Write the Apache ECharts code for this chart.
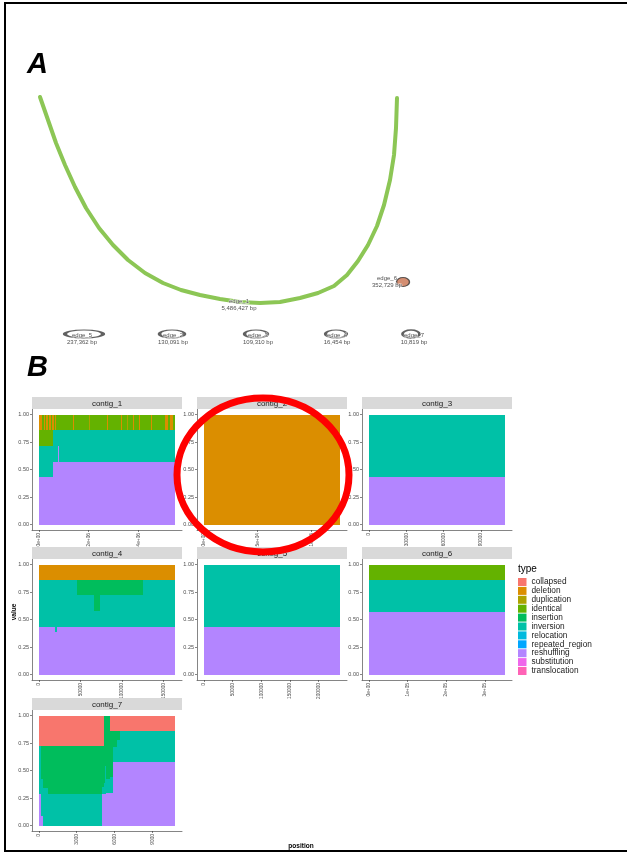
<!DOCTYPE html>
<html><head><meta charset="utf-8">
<script src="https://cdn.jsdelivr.net/npm/echarts@6/dist/echarts.min.js"></script>
<style>html,body{margin:0;padding:0;background:#fff}#c{width:627px;height:854px}</style>
</head><body><div id="c"></div>
<script>
// ---------- Panel A: assembly graph layout (layout units = canvas px) ----------
const arcX = [40,48,56,65,75,86,99,113,128,145,163,181,200,220,240,260,280,300,318,334,347,358,368,377,384,390,394,396,397];
const arcY = [97,120,143,165,187,208,228,245,260,273,283,290,295,299,302,303,302,298,293,286,275,261,245,226,205,180,155,128,98];
const loopNames = ['edge_5','edge_2','edge_3','edge_4','edge_7'];
const loopX = [84,172,256,336,411];
const loopY = [334,334,334,334,334];
const loopW = [38,25,23,21,17];
const labelNames = ['edge_1','edge_6','edge_5','edge_2','edge_3','edge_4','edge_7'];
const labelBp = ['5,486,427 bp','352,729 bp','237,362 bp','130,091 bp','109,310 bp','16,454 bp','10,819 bp'];
const labelX = [239,387,82,173,258,337,414];
const labelY = [305,282,339,339,339,339,339];

// ---------- Panel B: types ----------
const typeNames = ['collapsed','deletion','duplication','identical','insertion','inversion','relocation','repeated_region','reshuffling','substitution','translocation'];
const typeColors = ['#F8766D','#DB8E00','#AEA200','#64B200','#00BD5C','#00C1A7','#00BADE','#00A6FF','#B385FF','#EF67EB','#FF63B6'];

// contig_1
const c1Length = 5486427;
const c1Start = [0,20000,130000,200000,250000,300000,370000,420000,480000,530000,580000,600000,650000,690000,770000,810000,1360000,1400000,2000000,2030000,2730000,2760000,3290000,3330000,3550000,3580000,3800000,3840000,4040000,4080000,4530000,4570000,5070000,5200000,5270000,5380000];
const c1Reshuffling = [0.43,0.43,0.43,0.43,0.43,0.43,0.43,0.43,0.43,0.43,0.57,0.57,0.57,0.57,0.715,0.57,0.57,0.57,0.57,0.57,0.57,0.57,0.57,0.57,0.57,0.57,0.57,0.57,0.57,0.57,0.57,0.57,0.57,0.57,0.57,0.57];
const c1Inversion = [0.285,0.285,0.285,0.285,0.285,0.285,0.285,0.285,0.285,0.285,0.285,0.285,0.285,0.285,0.14,0.285,0.285,0.285,0.285,0.285,0.285,0.285,0.285,0.285,0.285,0.285,0.285,0.285,0.285,0.285,0.285,0.285,0.285,0.285,0.285,0.285];
const c1Identical = [0.285,0.14,0.285,0.14,0.285,0.14,0.285,0.14,0.285,0.14,0,0.145,0,0.145,0.145,0.145,0,0.145,0,0.145,0,0.145,0,0.145,0,0.145,0,0.145,0,0.145,0,0.145,0,0.145,0,0.145];
const c1Deletion = [0,0.145,0,0.145,0,0.145,0,0.145,0,0.145,0.145,0,0.145,0,0,0,0.145,0,0,0,0.145,0,0.145,0,0,0,0.145,0,0.145,0,0.145,0,0.145,0,0.145,0];
const c1Duplication = [0,0,0,0,0,0,0,0,0,0,0,0,0,0,0,0,0,0,0.145,0,0,0,0,0,0.145,0,0,0,0,0,0,0,0,0,0,0];
const c1Ticks = [0,2000000,4000000];
const c1TickLabels = ['0e+00','2e+06','4e+06'];
// contig_2
const c2Length = 127000;
const c2Start = [0];
const c2Deletion = [1];
const c2Ticks = [0,50000,100000];
const c2TickLabels = ['0e+00','5e+04','1e+05'];
// contig_3
const c3Length = 109310;
const c3Start = [0];
const c3Reshuffling = [0.43];
const c3Inversion = [0.57];
const c3Ticks = [0,30000,60000,90000];
const c3TickLabels = ['0','30000','60000','90000'];
// contig_4
const c4Length = 164000;
const c4Start = [0,20000,21500,45600,66400,73600,125700];
const c4Reshuffling = [0.434,0.39,0.434,0.434,0.434,0.434,0.434];
const c4Inversion = [0.426,0.47,0.426,0.286,0.14,0.286,0.426];
const c4Insertion = [0,0,0,0.14,0.286,0.14,0];
const c4Deletion = [0.14,0.14,0.14,0.14,0.14,0.14,0.14];
const c4Ticks = [0,50000,100000,150000];
const c4TickLabels = ['0','50000','100000','150000'];
// contig_5
const c5Length = 237362;
const c5Start = [0];
const c5Reshuffling = [0.434];
const c5Inversion = [0.566];
const c5Ticks = [0,50000,100000,150000,200000];
const c5TickLabels = ['0','50000','100000','150000','200000'];
// contig_6
const c6Length = 352729;
const c6Start = [0];
const c6Reshuffling = [0.57];
const c6Inversion = [0.29];
const c6Identical = [0.14];
const c6Ticks = [0,100000,200000,300000];
const c6TickLabels = ['0e+00','1e+05','2e+05','3e+05'];
// contig_7
const c7Length = 10819;
const c7Start = [0,150,300,750,5036,5170,5290,5330,5646,5908,6200,6439];
const c7Reshuffling = [0.29,0.09,0,0,0.29,0.29,0.29,0.30,0.30,0.574,0.574,0.574];
const c7Inversion = [0.43,0.33,0.34,0.286,0.06,0.10,0.25,0.12,0.14,0.136,0.20,0.281];
const c7Insertion = [0,0.30,0.38,0.434,0.37,0.61,0.46,0.58,0.415,0.145,0.081,0];
const c7Collapsed = [0.28,0.28,0.28,0.28,0.28,0,0,0,0.145,0.145,0.145,0.145];
const c7Ticks = [0,3000,6000,9000];
const c7TickLabels = ['0','3000','6000','9000'];

const yTicks = [0,0.25,0.5,0.75,1];

// ---------- layout ----------
const FONT = '"Liberation Sans", Arial, sans-serif';
const colLeft = [32,197,362];
const rowTop = [397,547,698];
const stripH = 12, panelW = 150, panelH = 121;

const facetDefs = [
  {name:'contig_1',row:0,col:0,len:c1Length,start:c1Start,vals:{reshuffling:c1Reshuffling,inversion:c1Inversion,identical:c1Identical,duplication:c1Duplication,deletion:c1Deletion},ticks:c1Ticks,labels:c1TickLabels},
  {name:'contig_2',row:0,col:1,len:c2Length,start:c2Start,vals:{deletion:c2Deletion},ticks:c2Ticks,labels:c2TickLabels},
  {name:'contig_3',row:0,col:2,len:c3Length,start:c3Start,vals:{reshuffling:c3Reshuffling,inversion:c3Inversion},ticks:c3Ticks,labels:c3TickLabels},
  {name:'contig_4',row:1,col:0,len:c4Length,start:c4Start,vals:{reshuffling:c4Reshuffling,inversion:c4Inversion,insertion:c4Insertion,deletion:c4Deletion},ticks:c4Ticks,labels:c4TickLabels},
  {name:'contig_5',row:1,col:1,len:c5Length,start:c5Start,vals:{reshuffling:c5Reshuffling,inversion:c5Inversion},ticks:c5Ticks,labels:c5TickLabels},
  {name:'contig_6',row:1,col:2,len:c6Length,start:c6Start,vals:{reshuffling:c6Reshuffling,inversion:c6Inversion,identical:c6Identical},ticks:c6Ticks,labels:c6TickLabels},
  {name:'contig_7',row:2,col:0,len:c7Length,start:c7Start,vals:{reshuffling:c7Reshuffling,inversion:c7Inversion,insertion:c7Insertion,collapsed:c7Collapsed},ticks:c7Ticks,labels:c7TickLabels}
];

function buildRects(def){
  const out = {}; typeNames.forEach(t => out[t] = []);
  const n = def.start.length;
  const cum = new Array(n).fill(0);
  for (let ti = typeNames.length - 1; ti >= 0; ti--) {
    const t = typeNames[ti]; const v = def.vals[t]; if (!v) continue;
    for (let i = 0; i < n; i++) {
      const x0 = def.start[i], x1 = i < n - 1 ? def.start[i+1] : def.len;
      const y0 = cum[i], y1 = cum[i] + v[i];
      cum[i] = y1;
      if (v[i] <= 0) continue;
      const last = out[t][out[t].length - 1];
      if (last && last[1] === x0 && Math.abs(last[2]-y0) < 1e-9 && Math.abs(last[3]-y1) < 1e-9) last[1] = x1;
      else out[t].push([x0, x1, y0, y1]);
    }
  }
  return out;
}

function renderRect(params, api){
  const a = api.coord([api.value(0), api.value(3)]);
  const b = api.coord([api.value(1), api.value(2)]);
  let x0 = Math.round(a[0]), x1 = Math.round(b[0]);
  if (x1 <= x0) x1 = x0 + 1;
  const y0 = Math.round(a[1]), y1 = Math.round(b[1]);
  const c = api.visual('color');
  return {type:'rect', shape:{x:x0, y:y0, width:x1-x0, height:y1-y0}, style:{fill:c}};
}

const grids = [], xAxes = [], yAxes = [], series = [], graphics = [];
const axisLineStyle = {color:'#333', width:0.6};
facetDefs.forEach((def, f) => {
  const left = colLeft[def.col], top = rowTop[def.row] + stripH;
  grids.push({left:left, top:top, width:panelW, height:panelH, containLabel:false, outerBoundsMode:'none'});
  const lblMap = {}; def.ticks.forEach((t,i) => lblMap[t] = def.labels[i]);
  xAxes.push({type:'value', gridIndex:f, min:-0.05*def.len, max:1.05*def.len,
    axisLine:{show:true, onZero:false, lineStyle:axisLineStyle},
    axisTick:{show:true, length:2, customValues:def.ticks, lineStyle:axisLineStyle},
    axisLabel:{show:true, customValues:def.ticks, rotate:90, fontSize:4.8, color:'#4d4d4d', fontFamily:FONT, margin:3,
      formatter:(v) => lblMap[v] !== undefined ? lblMap[v] : ''},
    splitLine:{show:false}});
  yAxes.push({type:'value', gridIndex:f, min:-0.05, max:1.05,
    axisLine:{show:true, onZero:false, lineStyle:axisLineStyle},
    axisTick:{show:true, length:2, customValues:yTicks, lineStyle:axisLineStyle},
    axisLabel:{show:true, customValues:yTicks, fontSize:5.5, color:'#4d4d4d', fontFamily:FONT, margin:3,
      formatter:(v) => v.toFixed(2)},
    splitLine:{show:false}});
  const rects = buildRects(def);
  for (let ti = typeNames.length - 1; ti >= 0; ti--) {
    const t = typeNames[ti];
    series.push({type:'custom', name:t, xAxisIndex:f, yAxisIndex:f, coordinateSystem:'cartesian2d',
      itemStyle:{color:typeColors[ti]}, renderItem:renderRect, data:rects[t], encode:{x:[0,1], y:[2,3]},
      silent:true, animation:false, clip:true});
  }
  graphics.push({type:'rect', shape:{x:left, y:rowTop[def.row], width:panelW, height:stripH}, style:{fill:'#d9d9d9'}, z:5});
  graphics.push({type:'text', x:left+panelW/2, y:rowTop[def.row]+stripH/2+0.5, style:{text:def.name, fill:'#1a1a1a', font:'8px '+FONT, textAlign:'center', textVerticalAlign:'middle'}, z:6});
});

// Panel A hidden coordinate grid
const A = facetDefs.length;
grids.push({left:0, top:0, width:627, height:854, outerBoundsMode:'none'});
xAxes.push({type:'value', gridIndex:A, min:0, max:627, show:false});
yAxes.push({type:'value', gridIndex:A, min:0, max:854, inverse:true, show:false});
series.push({type:'line', name:'edge_1_path', xAxisIndex:A, yAxisIndex:A, data:arcX.map((x,i)=>[x,arcY[i]]),
  showSymbol:false, symbol:'none', lineStyle:{color:'#8cc655', width:4, cap:'round', join:'round'}, silent:true, animation:false, z:3});
series.push({type:'scatter', name:'loops', xAxisIndex:A, yAxisIndex:A, data:loopX.map((x,i)=>({value:[x,loopY[i]], symbolSize:[loopW[i],8]})),
  symbol:'circle', itemStyle:{color:'rgba(255,255,255,0)', borderColor:'#3a3a3a', borderWidth:2}, silent:true, animation:false, z:3});
series.push({type:'scatter', name:'edge_6_node', xAxisIndex:A, yAxisIndex:A, data:[[403,282]], symbol:'circle', symbolSize:[13,9],
  itemStyle:{color:'#c9724f', borderColor:'#333', borderWidth:1.2}, silent:true, animation:false, z:3});
series.push({type:'scatter', name:'edge_labels', xAxisIndex:A, yAxisIndex:A, data:labelX.map((x,i)=>[x,labelY[i],i]),
  symbolSize:1, itemStyle:{color:'rgba(0,0,0,0)'}, silent:true, animation:false, z:4,
  label:{show:true, position:'inside', formatter:(p)=>labelNames[p.value[2]]+'\n'+labelBp[p.value[2]],
    fontSize:6, lineHeight:6.5, color:'#222', fontFamily:FONT, textBorderColor:'#fff', textBorderWidth:1}});

// annotations
graphics.push({type:'rect', shape:{x:5, y:3, width:640, height:848}, style:{fill:'none', stroke:'#000', lineWidth:2}, z:100});
graphics.push({type:'text', x:27, y:50, style:{text:'A', fill:'#000', font:'italic bold 29px '+FONT}, z:10});
graphics.push({type:'text', x:27, y:353, style:{text:'B', fill:'#000', font:'italic bold 29px '+FONT}, z:10});
graphics.push({type:'text', x:518, y:569, style:{text:'type', fill:'#000', font:'10px '+FONT, textVerticalAlign:'middle'}, z:10});
graphics.push({type:'text', x:14, y:612, rotation:Math.PI/2, style:{text:'value', fill:'#000', font:'bold 6.5px '+FONT, textAlign:'center', textVerticalAlign:'middle'}, z:10});
graphics.push({type:'text', x:301, y:846, style:{text:'position', fill:'#000', font:'bold 6.5px '+FONT, textAlign:'center', textVerticalAlign:'middle'}, z:10});
graphics.push({type:'ellipse', shape:{cx:263, cy:475, rx:86, ry:77}, style:{fill:'none', stroke:'#ff0000', lineWidth:7}, z:100});

const chart = echarts.init(document.getElementById('c'), null, {renderer:'canvas', width:627, height:854});
chart.setOption({
  backgroundColor:'#ffffff',
  animation:false,
  grid:grids, xAxis:xAxes, yAxis:yAxes, series:series,
  legend:{data:typeNames, orient:'vertical', left:518, top:578, icon:'rect', itemWidth:8.5, itemHeight:8, itemGap:0.9,
    selectedMode:false, textStyle:{fontSize:8.3, color:'#1a1a1a', fontFamily:FONT, lineHeight:8}, padding:0},
  graphic:{elements:graphics}
});
</script></body></html>
